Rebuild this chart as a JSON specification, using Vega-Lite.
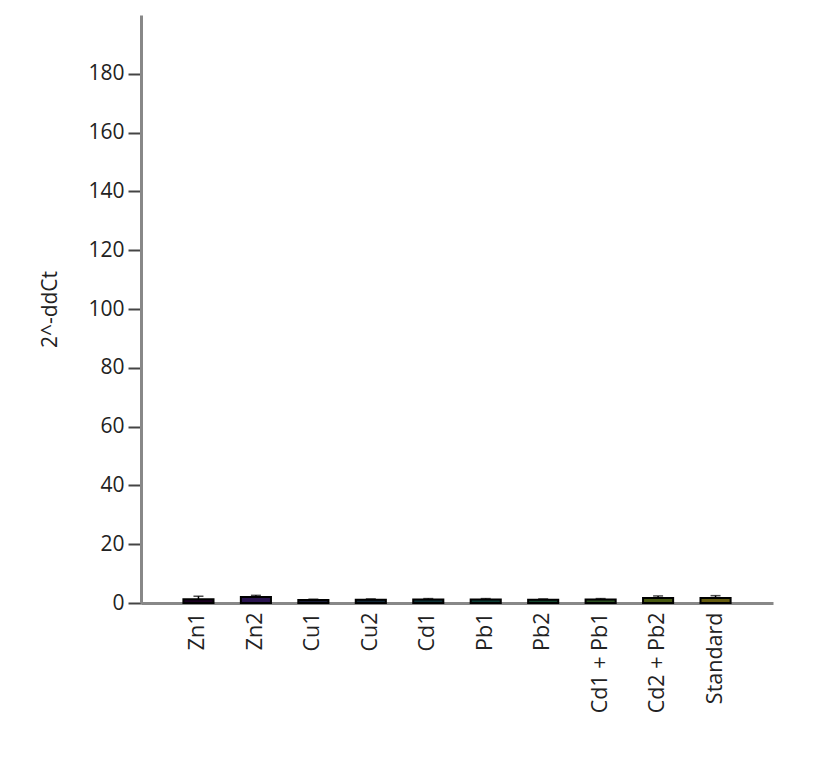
{
  "$schema": "https://vega.github.io/schema/vega-lite/v6.json",
  "width": 632,
  "height": 588,
  "autosize": {"type": "none"},
  "padding": {"left": 141, "top": 15, "right": 64, "bottom": 172},
  "background": "#ffffff",
  "config": {
    "view": {"stroke": null},
    "font": "Open Sans",
    "axis": {"labelFont": "Open Sans", "titleFont": "Open Sans", "labelColor": "#222222", "titleColor": "#222222", "grid": false}
  },
  "data": {
    "values": [
      {"sample": "Zn1", "value": 1.3, "upper": 2.3},
      {"sample": "Zn2", "value": 2.0, "upper": 2.6},
      {"sample": "Cu1", "value": 1.0, "upper": 1.3},
      {"sample": "Cu2", "value": 1.1, "upper": 1.4},
      {"sample": "Cd1", "value": 1.2, "upper": 1.5},
      {"sample": "Pb1", "value": 1.2, "upper": 1.5},
      {"sample": "Pb2", "value": 1.1, "upper": 1.4},
      {"sample": "Cd1 + Pb1", "value": 1.2, "upper": 1.5},
      {"sample": "Cd2 + Pb2", "value": 1.7, "upper": 2.4},
      {"sample": "Standard", "value": 1.7, "upper": 2.5}
    ]
  },
  "encoding": {
    "x": {
      "field": "sample",
      "type": "nominal",
      "sort": null,
      "scale": {"paddingInner": 0.476, "paddingOuter": 0.738},
      "axis": {
        "title": null,
        "labelAngle": -90,
        "labelFontSize": 21.5,
        "labelPadding": 9,
        "ticks": false,
        "domainColor": "#888888",
        "domainWidth": 3
      }
    }
  },
  "layer": [
    {
      "mark": {"type": "bar", "stroke": "#000000", "strokeWidth": 2},
      "encoding": {
        "y": {
          "field": "value",
          "type": "quantitative",
          "scale": {"domain": [0, 200], "nice": false},
          "axis": {
            "title": "2^-ddCt",
            "titleFontSize": 21,
            "titleFontWeight": "normal",
            "titlePadding": 27,
            "values": [0, 20, 40, 60, 80, 100, 120, 140, 160, 180],
            "labelFontSize": 21,
            "labelPadding": 4,
            "tickSize": 13,
            "tickWidth": 2,
            "tickColor": "#444444",
            "domainColor": "#888888",
            "domainWidth": 3
          }
        },
        "fill": {
          "field": "sample",
          "type": "nominal",
          "sort": null,
          "scale": {"range": ["#1b0022", "#2a1450", "#191d37", "#142a39", "#0f3439", "#0c3f37", "#154930", "#2c5223", "#485911", "#655c0f"]},
          "legend": null
        }
      }
    },
    {
      "mark": {"type": "rule", "color": "#000000", "strokeWidth": 1.5},
      "encoding": {
        "y": {"field": "value", "type": "quantitative"},
        "y2": {"field": "upper"}
      }
    },
    {
      "mark": {"type": "tick", "color": "#000000", "thickness": 1.5, "size": 10},
      "encoding": {
        "y": {"field": "upper", "type": "quantitative"}
      }
    }
  ]
}
